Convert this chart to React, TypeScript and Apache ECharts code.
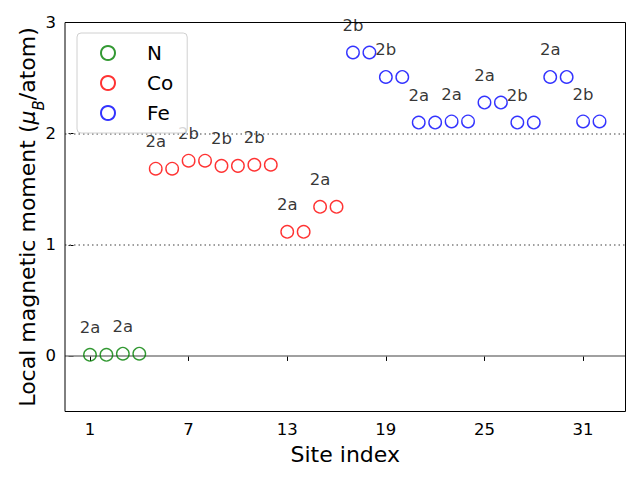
import React, { useEffect, useRef } from "react";
import * as echarts from "echarts";

const nSites = [1, 2, 3, 4];
const nMoments = [0.01, 0.01, 0.02, 0.02];
const nLabels = ["2a", "", "2a", ""];

const coSites = [5, 6, 7, 8, 9, 10, 11, 12, 13, 14, 15, 16];
const coMoments = [1.685, 1.685, 1.757, 1.757, 1.71, 1.71, 1.72, 1.72, 1.117, 1.117, 1.342, 1.342];
const coLabels = ["2a", "", "2b", "", "2b", "", "2b", "", "2a", "", "2a", ""];

const feSites = [17, 18, 19, 20, 21, 22, 23, 24, 25, 26, 27, 28, 29, 30, 31, 32];
const feMoments = [2.73, 2.73, 2.51, 2.51, 2.1, 2.1, 2.11, 2.11, 2.28, 2.28, 2.1, 2.1, 2.51, 2.51, 2.11, 2.11];
const feLabels = ["2b", "", "2b", "", "2a", "", "2a", "", "2a", "", "2b", "", "2a", "", "2b", ""];

const xTicks = [1, 7, 13, 19, 25, 31];
const yTicks = [0, 1, 2, 3];
const dottedLevels = [1, 2];
const solidLevels = [0];

const FONT = "DejaVu Sans";

function makeSeries(name: string, color: string, sites: number[], vals: number[], labels: string[], extra: any = {}) {
  return {
    name,
    type: "scatter",
    symbol: "circle",
    symbolSize: 12.5,
    itemStyle: { color: "transparent", borderColor: color, borderWidth: 1.4 },
    data: sites.map((s, i) => ({
      value: [s, vals[i]],
      label: {
        show: labels[i] !== "",
        formatter: labels[i],
        position: "inside",
        offset: [0, -27],
        color: "#000",
        textBorderWidth: 0,
        fontSize: 16.5,
        fontFamily: FONT,
      },
    })),
    z: 3,
    ...extra,
  };
}

export default function App() {
  const ref = useRef<HTMLDivElement>(null);
  useEffect(() => {
    if (!ref.current) return;
    const chart = echarts.init(ref.current, undefined, { renderer: "svg" });
    chart.setOption({
      animation: false,
      backgroundColor: "#fff",
      textStyle: { fontFamily: FONT },
      grid: {
        left: 65,
        right: 14.5,
        top: 22.5,
        bottom: 68.5,
        show: true,
        borderColor: "#000",
        borderWidth: 1,
        backgroundColor: "transparent",
        z: 4,
      },
      legend: {
        orient: "vertical",
        left: 77,
        top: 33,
        padding: [10, 14, 10, 23],
        backgroundColor: "rgba(255,255,255,0.8)",
        borderColor: "#d0d0d0",
        borderWidth: 1,
        borderRadius: 4,
        itemWidth: 14,
        itemHeight: 14,
        itemGap: 10,
        icon: "circle",
        textStyle: { fontSize: 20, fontFamily: FONT, color: "#000", padding: [0, 0, 0, 27] },
        data: ["N", "Co", "Fe"],
        z: 10,
      },
      xAxis: {
        type: "value",
        min: -0.52,
        max: 33.58,
        name: "Site index",
        nameLocation: "middle",
        nameGap: 32,
        nameTextStyle: { fontSize: 22, fontFamily: FONT, color: "#000" },
        axisLine: { show: false },
        splitLine: { show: false },
        axisTick: { show: true, length: 5, customValues: xTicks, lineStyle: { color: "#000", width: 1 } },
        axisLabel: { customValues: xTicks, fontSize: 16.5, color: "#000", margin: 9, fontFamily: FONT },
      },
      yAxis: {
        type: "value",
        min: -0.5,
        max: 3,
        name: "{n|Local magnetic moment (}{m|μ}{s|B}{n|/atom)}",
        nameLocation: "middle",
        nameGap: 27,
        nameMoveOverlap: false,
        nameRotate: 90,
        nameTextStyle: {
          fontSize: 22,
          fontFamily: FONT,
          color: "#000",
          rich: {
            n: { fontSize: 22, fontFamily: FONT, color: "#000", lineHeight: 28, verticalAlign: "bottom" },
            m: { fontSize: 22, fontFamily: FONT, color: "#000", fontStyle: "italic", lineHeight: 28, verticalAlign: "bottom" },
            s: { fontSize: 15, fontFamily: FONT, color: "#000", fontStyle: "italic", lineHeight: 28, verticalAlign: "bottom", padding: [0, 0, -8, 0] },
          },
        },
        axisLine: { show: false },
        splitLine: { show: false },
        axisTick: { show: true, length: 5, customValues: yTicks, lineStyle: { color: "#000", width: 1 } },
        axisLabel: { customValues: yTicks, fontSize: 16.5, color: "#000", margin: 9, fontFamily: FONT },
      },
      series: [
        makeSeries("N", "#008000", nSites, nMoments, nLabels, {
          markLine: {
            silent: true,
            symbol: "none",
            label: { show: false },
            data: [
              ...solidLevels.map((v) => ({ yAxis: v, lineStyle: { type: "solid", color: "#808080", width: 1.5 } })),
              ...dottedLevels.map((v) => ({ yAxis: v, lineStyle: { type: [1.5, 3], color: "#808080", width: 1.5 } })),
            ],
            z: 1,
          },
        }),
        makeSeries("Co", "#ff0000", coSites, coMoments, coLabels),
        makeSeries("Fe", "#0000ff", feSites, feMoments, feLabels),
      ],
    });
    return () => chart.dispose();
  }, []);
  return <div ref={ref} style={{ width: 640, height: 480, position: "absolute", left: 0, top: 0 }} />;
}
